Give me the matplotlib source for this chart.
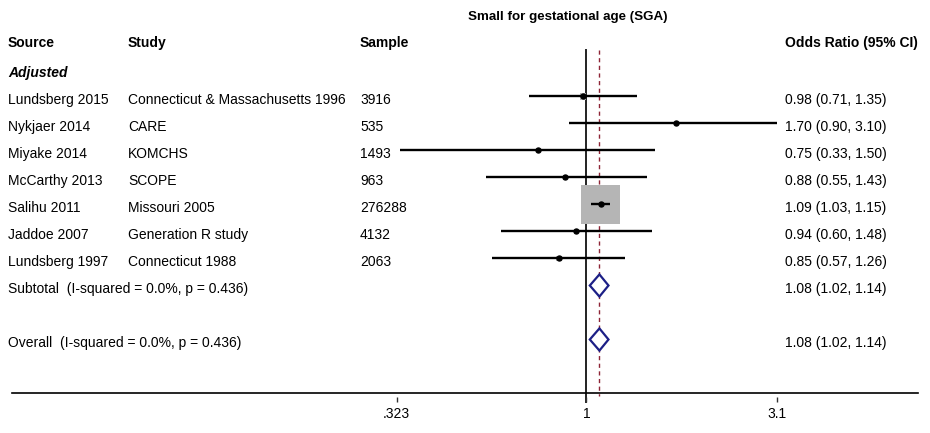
import numpy as np
import matplotlib
matplotlib.use("Agg")
import matplotlib.pyplot as plt
import matplotlib.transforms as mtransforms

plt.rcParams["font.family"] = ["Liberation Sans", "DejaVu Sans"]
plt.rcParams["font.size"] = 10

# --- data -------------------------------------------------------------
sources = ["Lundsberg 2015", "Nykjaer 2014", "Miyake 2014", "McCarthy 2013",
           "Salihu 2011", "Jaddoe 2007", "Lundsberg 1997"]
studies = ["Connecticut & Massachusetts 1996", "CARE", "KOMCHS", "SCOPE",
           "Missouri 2005", "Generation R study", "Connecticut 1988"]
samples = ["3916", "535", "1493", "963", "276288", "4132", "2063"]
odds = [0.98, 1.70, 0.75, 0.88, 1.09, 0.94, 0.85]
lower = [0.71, 0.90, 0.33, 0.55, 1.03, 0.60, 0.57]
upper = [1.35, 3.10, 1.50, 1.43, 1.15, 1.48, 1.26]

subtotal = (1.08, 1.02, 1.14)
overall = (1.08, 1.02, 1.14)
subtotal_label = "Subtotal  (I-squared = 0.0%, p = 0.436)"
overall_label = "Overall  (I-squared = 0.0%, p = 0.436)"
ticks = [0.323, 1, 3.1]
tick_labels = [".323", "1", "3.1"]
# ----------------------------------------------------------------------

odds = np.array(odds)
lower = np.array(lower)
upper = np.array(upper)

# inverse-variance weights -> box size
se = (np.log(upper) - np.log(lower)) / 3.92
w = 1 / se**2
box_px = 39 * np.sqrt(w / w.max())

fig = plt.figure(figsize=(9.3, 4.33), dpi=100)
ax = fig.add_axes([0, 0, 1, 1])
ax.set_xscale("log")
ax.set_xlim(0.03047, 7.727)
ax.set_ylim(12.463, -3.574)
ax.axis("off")

rows = np.arange(len(sources))
sub_row, all_row, axis_row = 7, 9, 11
text_dy = 0.14
navy = "#1c1f86"
red = "#8e2436"

# reference lines
ax.plot([1, 1], [-1.72, axis_row + 0.32], color="#222222", lw=1.4, zorder=1)
ax.plot([overall[0]] * 2, [-1.72, axis_row + 0.1], color=red, lw=1.0,
        ls=(0, (3, 2.5)), zorder=1)

# study boxes, CIs and point estimates
ax.scatter(odds, rows, marker="s", s=(box_px * 0.72) ** 2, color="#b5b5b5",
           edgecolors="none", zorder=2)
ax.hlines(rows, lower, upper, color="black", lw=1.7, zorder=3)
ax.plot(odds, rows, "o", color="black", ms=3.6, zorder=4)

# pooled diamonds
for row, (est, lo, hi) in [(sub_row, subtotal), (all_row, overall)]:
    ax.fill([lo, est, hi, est], [row, row - 0.41, row, row + 0.41],
            facecolor="white", edgecolor=navy, lw=1.6, zorder=4)

# x axis
ax.axhline(axis_row, xmin=12 / 930, xmax=918 / 930, color="black", lw=1.2)
ax.vlines(ticks, axis_row + 0.12, axis_row + 0.32, color="#333333", lw=1)
for t, lab in zip(ticks, tick_labels):
    ax.text(t, axis_row + 0.75, lab, ha="center", va="center")

# text columns
tr = mtransforms.blended_transform_factory(ax.transAxes, ax.transData)
cols = [8 / 930, 128 / 930, 360 / 930, 785 / 930]

ax.text(568 / 930, -3 + 0.05, "Small for gestational age (SGA)", transform=tr,
        ha="center", va="center", fontweight="bold", fontsize=9.6)
for x, head in zip(cols, ["Source", "Study", "Sample", "Odds Ratio (95% CI)"]):
    ax.text(x, -2 + 0.02, head, transform=tr, va="center", fontweight="bold")
ax.text(cols[0], -1 + text_dy, "Adjusted", transform=tr, va="center",
        fontweight="bold", fontstyle="italic")

for i in rows:
    y = i + text_dy
    ax.text(cols[0], y, sources[i], transform=tr, va="center")
    ax.text(cols[1], y, studies[i], transform=tr, va="center")
    ax.text(cols[2], y, samples[i], transform=tr, va="center")
    ax.text(cols[3], y, f"{odds[i]:.2f} ({lower[i]:.2f}, {upper[i]:.2f})",
            transform=tr, va="center")

for row, label, (est, lo, hi) in [(sub_row, subtotal_label, subtotal),
                                  (all_row, overall_label, overall)]:
    ax.text(cols[0], row + text_dy, label, transform=tr, va="center")
    ax.text(cols[3], row + text_dy, f"{est:.2f} ({lo:.2f}, {hi:.2f})",
            transform=tr, va="center")

fig.savefig("out.png", dpi=100, facecolor="white")
